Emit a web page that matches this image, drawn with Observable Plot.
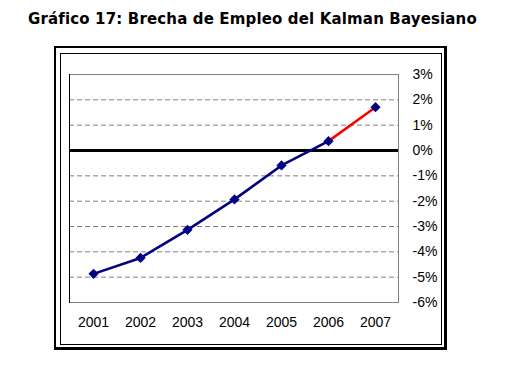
<!DOCTYPE html>
<html><head><meta charset="utf-8">
<script src="https://cdn.jsdelivr.net/npm/d3@7"></script>
<script src="https://cdn.jsdelivr.net/npm/@observablehq/plot@0.6"></script>
<style>
body{margin:0;background:#fff;}
#wrap{position:relative;width:505px;height:375px;overflow:hidden;font-family:"Liberation Sans",Arial,sans-serif;background:#fff;}
#title{position:absolute;left:28px;top:10px;font-family:"DejaVu Sans",Verdana,sans-serif;font-weight:bold;font-size:15px;letter-spacing:0.15px;white-space:nowrap;color:#000;}
#chart{position:absolute;left:0;top:40px;}
#outer{position:absolute;left:54px;top:46px;width:388px;height:299px;border:2px solid #000;border-right-width:3px;border-bottom-width:3px;}
#inner{position:absolute;left:60px;top:53px;width:380px;height:290px;border:1px solid #000;}
</style></head>
<body>
<div id="wrap">
  <div id="title">Gráfico 17: Brecha de Empleo del Kalman Bayesiano</div>
  <div id="chart"></div>
  <div id="outer"></div>
  <div id="inner"></div>
</div>
<script>
const years = ["2001","2002","2003","2004","2005","2006","2007"];
const gap = [-4.87, -4.24, -3.13, -1.93, -0.59, 0.37, 1.71];
const yTicks = [3, 2, 1, 0, -1, -2, -3, -4, -5, -6];
const gridValues = [2, 1, -1, -2, -3, -4, -5];

const data = years.map((y, i) => ({year: y, value: gap[i]}));
const blueSeg = data.slice(0, 6);
const redSeg = data.slice(5);

const chart = Plot.plot({
  width: 505,
  height: 335,
  marginLeft: 69,
  marginRight: 107,
  marginTop: 34,
  marginBottom: 73,
  style: {fontFamily: '"Liberation Sans", Arial, sans-serif', fontSize: "14px", background: "none", color: "#000"},
  x: {type: "point", domain: years, padding: 0.5},
  y: {domain: [-6, 3]},
  marks: [
    Plot.ruleY(gridValues, {stroke: "#808080", strokeWidth: 1, strokeDasharray: "5,3"}),
    Plot.frame({stroke: "#808080"}),
    Plot.frame({anchor: "left", stroke: "#000"}),
    Plot.ruleY([0], {stroke: "#000", strokeWidth: 3}),
    Plot.line(blueSeg, {x: "year", y: "value", stroke: "#000080", strokeWidth: 2.6}),
    Plot.line(redSeg, {x: "year", y: "value", stroke: "#ff0000", strokeWidth: 2.6}),
    Plot.dot(data, {x: "year", y: "value", symbol: "diamond2", r: 4.6, fill: "#000080", stroke: "none"}),
    Plot.axisY({anchor: "right", ticks: yTicks, tickSize: 0, tickPadding: 14, tickFormat: d => d + "%", label: null, fill: "#000"}),
    Plot.axisX({anchor: "bottom", tickSize: 0, tickPadding: 15, label: null, fill: "#000"})
  ]
});
document.getElementById("chart").appendChild(chart);
</script>
</body></html>
